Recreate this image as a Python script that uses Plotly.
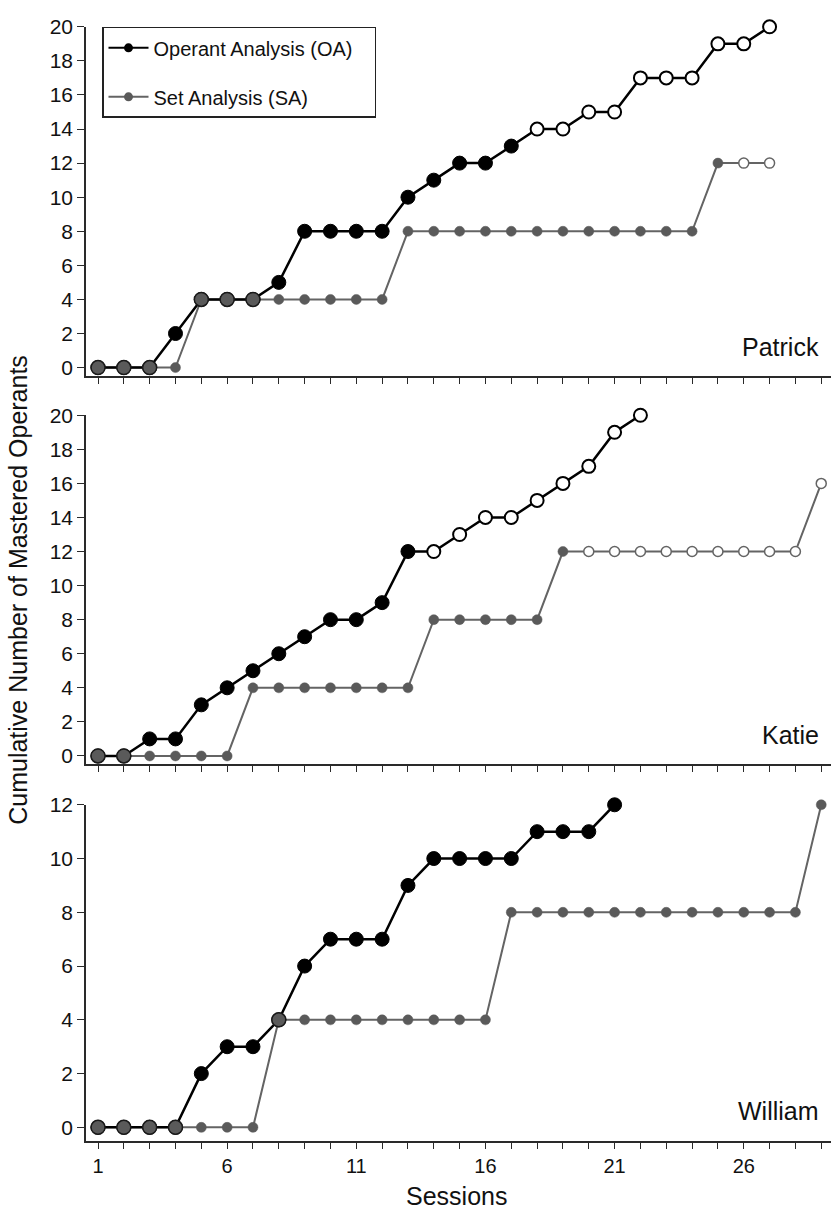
import plotly.graph_objects as go

# ---------------- data ----------------
participants = ["Patrick", "Katie", "William"]

patrick_oa = [0, 0, 0, 2, 4, 4, 4, 5, 8, 8, 8, 8, 10, 11, 12, 12, 13, 14, 14, 15, 15, 17, 17, 17, 19, 19, 20]
patrick_sa = [0, 0, 0, 0, 4, 4, 4, 4, 4, 4, 4, 4, 8, 8, 8, 8, 8, 8, 8, 8, 8, 8, 8, 8, 12, 12, 12]
patrick_oa_open_from = 18
patrick_sa_open_from = 26

katie_oa = [0, 0, 1, 1, 3, 4, 5, 6, 7, 8, 8, 9, 12, 12, 13, 14, 14, 15, 16, 17, 19, 20]
katie_sa = [0, 0, 0, 0, 0, 0, 4, 4, 4, 4, 4, 4, 4, 8, 8, 8, 8, 8, 12, 12, 12, 12, 12, 12, 12, 12, 12, 12, 16]
katie_oa_open_from = 14
katie_sa_open_from = 20

william_oa = [0, 0, 0, 0, 2, 3, 3, 4, 6, 7, 7, 7, 9, 10, 10, 10, 10, 11, 11, 11, 12]
william_sa = [0, 0, 0, 0, 0, 0, 0, 4, 4, 4, 4, 4, 4, 4, 4, 4, 8, 8, 8, 8, 8, 8, 8, 8, 8, 8, 8, 8, 12]
william_oa_open_from = None
william_sa_open_from = None

y_max = [20, 20, 12]
y_step = 2
x_tick_labels = [1, 6, 11, 16, 21, 26]
n_sessions = 29

series_names = ["Operant Analysis (OA)", "Set Analysis (SA)"]
x_title = "Sessions"
y_title = "Cumulative Number of Mastered Operants"

# ---------------- styles ----------------
FONT = "Liberation Sans, Arial, sans-serif"
OA_COLOR = "#000000"
SA_COLOR = "#5a5a5a"
SA_LINE = "#646464"
AXIS_COLOR = "#2a2a2a"
TEXT = "#111111"
W, H = 831, 1214

# pixel layout (from reference)
x_left_px = 86
panel_px = [(15, 369, -0.52), (408.3, 761.7, -0.49), (802.7, 1143.3, -0.514)]

panels = [
    (patrick_oa, patrick_sa, patrick_oa_open_from, patrick_sa_open_from),
    (katie_oa, katie_sa, katie_oa_open_from, katie_sa_open_from),
    (william_oa, william_sa, william_oa_open_from, william_sa_open_from),
]

fig = go.Figure()


def split(values, open_from):
    xs = list(range(1, len(values) + 1))
    filled = [(x, v) for x, v in zip(xs, values) if open_from is None or x < open_from]
    opened = [(x, v) for x, v in zip(xs, values) if open_from is not None and x >= open_from]
    return xs, filled, opened


def add(xs, ys, mode, xa, ya, **kw):
    fig.add_trace(go.Scatter(x=xs, y=ys, mode=mode, xaxis=xa, yaxis=ya, showlegend=False,
                             cliponaxis=False, hoverinfo="skip", **kw))


for i, (oa, sa, oa_open, sa_open) in enumerate(panels):
    xa = "x" if i == 0 else f"x{i+1}"
    ya = "y" if i == 0 else f"y{i+1}"
    oa_x, oa_f, oa_o = split(oa, oa_open)
    sa_x, sa_f, sa_o = split(sa, sa_open)

    add(sa_x, sa, "lines", xa, ya, line=dict(color=SA_LINE, width=2))
    add(oa_x, oa, "lines", xa, ya, line=dict(color=OA_COLOR, width=2.5))
    if oa_f:
        add([p[0] for p in oa_f], [p[1] for p in oa_f], "markers", xa, ya,
            marker=dict(size=14, color=OA_COLOR, line=dict(color=OA_COLOR, width=1)))
    if oa_o:
        add([p[0] for p in oa_o], [p[1] for p in oa_o], "markers", xa, ya,
            marker=dict(size=13, color="white", line=dict(color=OA_COLOR, width=2)))
    if sa_f:
        add([p[0] for p in sa_f], [p[1] for p in sa_f], "markers", xa, ya,
            marker=dict(size=10, color=SA_COLOR, line=dict(color=SA_COLOR, width=0.5)))
    if sa_o:
        add([p[0] for p in sa_o], [p[1] for p in sa_o], "markers", xa, ya,
            marker=dict(size=10, color="white", line=dict(color=SA_LINE, width=1.5)))
    ov = [(x, a) for x, a, b in zip(oa_x, oa, sa) if a == b]
    if ov:
        add([p[0] for p in ov], [p[1] for p in ov], "markers", xa, ya,
            marker=dict(size=14, color=SA_COLOR, line=dict(color="#1a1a1a", width=1.5)))

# legend-only entries
pad = "\u00a0" * 3
fig.add_trace(go.Scatter(x=[None], y=[None], mode="lines+markers", name=series_names[0] + pad,
                         line=dict(color=OA_COLOR, width=2), marker=dict(size=9, color=OA_COLOR),
                         legendgroup="oa"))
fig.add_trace(go.Scatter(x=[None], y=[None], mode="lines+markers", name=series_names[1],
                         line=dict(color=SA_LINE, width=2), marker=dict(size=9, color=SA_COLOR),
                         legendgroup="sa"))

x_range = [1 - 12 / 25.83, 1 + (W - 98) / 25.83]
layout = dict(
    width=W, height=H, margin=dict(l=0, r=0, t=0, b=0),
    paper_bgcolor="white", plot_bgcolor="white",
    font=dict(family=FONT, color=TEXT),
    showlegend=True,
    legend=dict(x=102 / W, y=1 - 15 / H, xanchor="left", yanchor="top",
                bordercolor="#222222", borderwidth=1.5, bgcolor="white",
                font=dict(size=20, family=FONT, color=TEXT),
                traceorder="grouped", tracegroupgap=20, itemwidth=40),
)

for i, (top, bot, ymin) in enumerate(panel_px):
    xk = "xaxis" if i == 0 else f"xaxis{i+1}"
    yk = "yaxis" if i == 0 else f"yaxis{i+1}"
    ya = "y" if i == 0 else f"y{i+1}"
    xa = "x" if i == 0 else f"x{i+1}"
    ticktext = [str(s) if (i == 2 and s in x_tick_labels) else "" for s in range(1, n_sessions + 1)]
    layout[xk] = dict(domain=[x_left_px / W, 1.0], range=x_range, anchor=ya,
                      tickmode="array", tickvals=list(range(1, n_sessions + 1)), ticktext=ticktext,
                      ticks="outside", ticklen=6, tickwidth=1.2, tickcolor=AXIS_COLOR,
                      showline=True, linecolor=AXIS_COLOR, linewidth=1.5,
                      showgrid=False, zeroline=False,
                      tickfont=dict(size=20, family=FONT, color=TEXT))
    layout[yk] = dict(domain=[1 - bot / H, 1 - top / H], range=[ymin, y_max[i]], anchor=xa,
                      tickmode="array", tickvals=list(range(0, y_max[i] + 1, y_step)),
                      ticks="outside", ticklen=7, tickwidth=1.2, tickcolor=AXIS_COLOR,
                      showline=True, linecolor=AXIS_COLOR, linewidth=1.5,
                      showgrid=False, zeroline=False,
                      tickfont=dict(size=21, family=FONT, color=TEXT))

fig.update_layout(**layout)

# panel labels
label_pos = [339, 732, 1113]
for name, yc in zip(participants, label_pos):
    fig.add_annotation(text=name, xref="paper", yref="paper", x=821 / W, y=1 - yc / H,
                       xanchor="right", yanchor="middle", showarrow=False,
                       font=dict(size=25, family=FONT, color=TEXT))

# axis titles
fig.add_annotation(text=x_title, xref="paper", yref="paper", x=456.5 / W, y=1 - 1199 / H,
                   xanchor="center", yanchor="middle", showarrow=False,
                   font=dict(size=25, family=FONT, color=TEXT))
fig.add_annotation(text=y_title, xref="paper", yref="paper", x=18 / W, y=1 - 585 / H,
                   xanchor="center", yanchor="middle", showarrow=False, textangle=-90,
                   font=dict(size=25, family=FONT, color=TEXT))

post = (
    "var d=document.documentElement, b=document.body;"
    "d.style.margin='0';d.style.padding='0';d.style.overflow='hidden';"
    "b.style.margin='0';b.style.padding='0';b.style.overflow='hidden';"
)
fig.write_html("out.html", config={"displayModeBar": False}, post_script=post)
